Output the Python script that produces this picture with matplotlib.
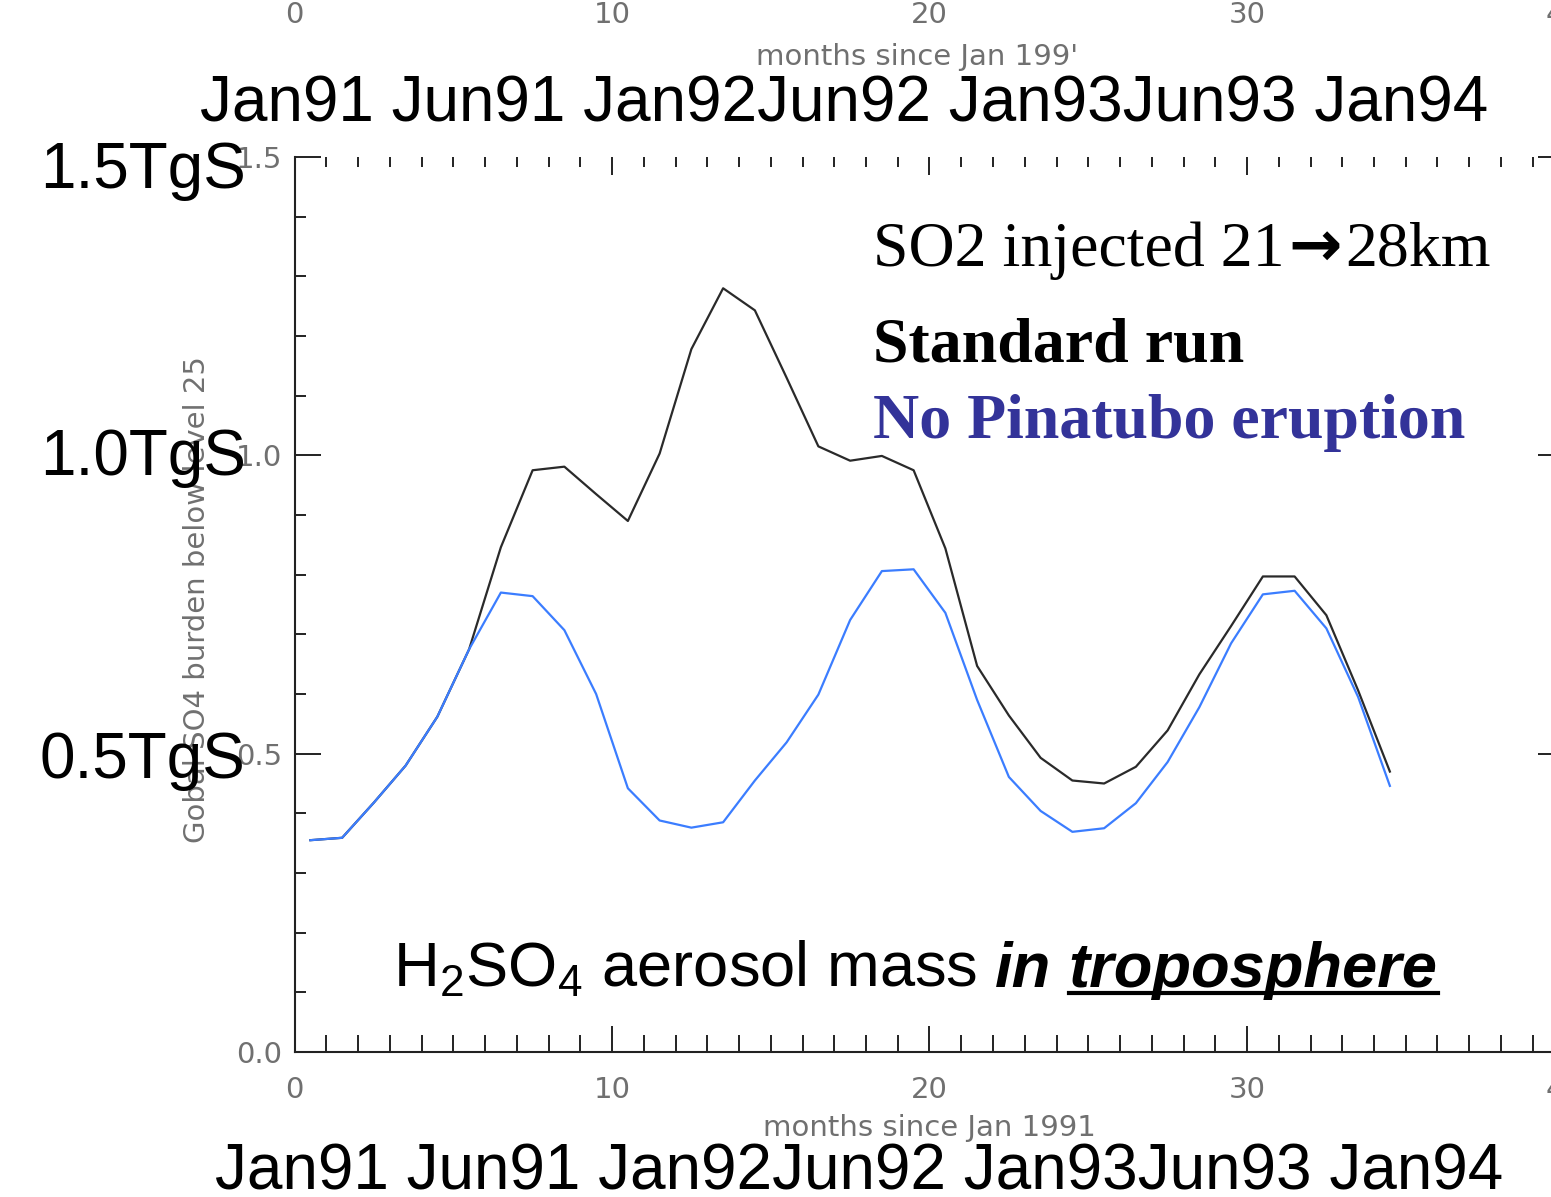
import matplotlib
matplotlib.use("Agg")
import matplotlib.pyplot as plt
from matplotlib.ticker import MultipleLocator
from matplotlib.lines import Line2D

# months since Jan 1991 (monthly means, plotted mid-month)
months = [0.5, 1.5, 2.5, 3.5, 4.5, 5.5, 6.5, 7.5, 8.5, 9.5,
          10.5, 11.5, 12.5, 13.5, 14.5, 15.5, 16.5, 17.5, 18.5, 19.5,
          20.5, 21.5, 22.5, 23.5, 24.5, 25.5, 26.5, 27.5, 28.5, 29.5,
          30.5, 31.5, 32.5, 33.5, 34.5]

# tropospheric H2SO4 burden, TgS
standard = [0.355, 0.359, 0.418, 0.480, 0.562, 0.675, 0.846, 0.975, 0.981, 0.935,
            0.890, 1.003, 1.178, 1.280, 1.243, 1.130, 1.015, 0.991, 0.999, 0.975,
            0.844, 0.647, 0.564, 0.493, 0.455, 0.450, 0.478, 0.539, 0.633, 0.714,
            0.797, 0.797, 0.732, 0.606, 0.470]
no_pinatubo = [0.355, 0.359, 0.418, 0.480, 0.562, 0.675, 0.770, 0.764, 0.707, 0.600,
               0.442, 0.388, 0.376, 0.385, 0.455, 0.519, 0.599, 0.724, 0.806, 0.809,
               0.736, 0.590, 0.461, 0.404, 0.369, 0.375, 0.417, 0.486, 0.578, 0.685,
               0.767, 0.773, 0.710, 0.595, 0.446]

x_major = [0, 10, 20, 30, 40]
y_major = [0.0, 0.5, 1.0, 1.5]
y_major_labels = ["0.0", "0.5", "1.0", "1.5"]
date_labels = "Jan91 Jun91 Jan92Jun92 Jan93Jun93 Jan94"
tgs_labels = ["1.5TgS", "1.0TgS", "0.5TgS"]

W, H = 1551, 1197
def fx(px):
    return px / W
def fy(py):
    return 1 - py / H

gray = "#707070"
sans = ["Liberation Sans", "DejaVu Sans"]
serif = ["Liberation Serif", "DejaVu Serif"]

fig = plt.figure(figsize=(W / 100, H / 100), dpi=100)
ax = fig.add_axes([fx(294.5), fy(1052), 1270 / W, 895 / H])

ax.plot(months, standard, color="#2a2a2a", lw=1.6)
ax.plot(months, no_pinatubo, color="#3b7dff", lw=1.6)

ax.set_xlim(0, 40)
ax.set_ylim(0, 1.5)
ax.set_xticks(x_major)
ax.set_xticks(range(41), minor=True)
ax.set_yticks(y_major, y_major_labels)
ax.yaxis.set_minor_locator(MultipleLocator(0.1))
for s in ["top", "right"]:
    ax.spines[s].set_visible(False)
for s in ["left", "bottom"]:
    ax.spines[s].set_linewidth(1.5)
    ax.spines[s].set_color("#222222")

ax.tick_params(axis="x", which="both", direction="in", top=False, width=1.4,
               color="#222222", labelcolor=gray, labelsize=21, pad=17)
ax.tick_params(axis="x", which="major", length=19)
ax.tick_params(axis="x", which="minor", length=12)
ax.tick_params(axis="y", which="both", direction="in", left=True, right=True, width=1.4,
               color="#222222", labelcolor=gray, labelsize=21, pad=9)
ax.tick_params(axis="y", which="major", length=19)
ax.tick_params(axis="y", which="minor", length=8)

ax.set_xlabel("months since Jan 1991", color=gray, fontsize=21)
ax.xaxis.set_label_coords(0.5, -0.085)
ax.xaxis.label.set_va("center")
ax.set_ylabel("Gobal SO4 burden below level 25", color=gray, fontsize=21)
ax.yaxis.set_label_coords(-0.077, 0.505)
ax.yaxis.label.set_va("center")

# top axis (IDL style, no spine)
ax2 = ax.twiny()
ax2.set_xlim(0, 40)
ax2.set_xticks(x_major)
ax2.set_xticks(range(41), minor=True)
for s in ax2.spines.values():
    s.set_visible(False)
ax2.tick_params(axis="x", which="both", direction="in", top=True, bottom=False,
                width=1.4, color="#222222", labelcolor=gray, labelsize=21, pad=92)
ax2.tick_params(axis="x", which="major", length=13)
ax2.tick_params(axis="x", which="minor", length=7)
ax2.set_xlabel("months since Jan 199'", color=gray, fontsize=21)
ax2.xaxis.set_label_coords(0.49, 1.112)
ax2.xaxis.label.set_va("center")

# overlaid slide annotations
fig.text(fx(200), fy(122), date_labels, fontsize=46, family=sans, va="baseline")
fig.text(fx(215), fy(1190), date_labels, fontsize=46, family=sans, va="baseline")
for lab, base in zip(tgs_labels, [188, 475, 778]):
    fig.text(fx(40), fy(base), lab, fontsize=46, family=sans, va="baseline")

fig.text(fx(873), fy(362), "Standard run", fontsize=46, family=serif, weight="bold",
         va="baseline", color="black")
fig.text(fx(873), fy(438), "No Pinatubo eruption", fontsize=46, family=serif, weight="bold",
         va="baseline", color="#333399")

fig.canvas.draw()
r = fig.canvas.get_renderer()

# "SO2 injected 21 -> 28km" with a heavy arrow
s1 = fig.text(fx(873), fy(266), "SO2 injected 21", fontsize=46, family=serif, va="baseline")
bs = s1.get_window_extent(r)
arr = fig.text((bs.x1 + 4) / W, fy(266), "\u2192", fontsize=46, family=["DejaVu Sans"],
               weight="bold", va="baseline")
ba = arr.get_window_extent(r)
fig.text((ba.x1 + 3) / W, fy(266), "28km", fontsize=46, family=serif, va="baseline")

# "H2SO4 aerosol mass in troposphere"
fs = 45.5
base = fy(987)
t1 = fig.text(fx(393), base, r"H$_\mathregular{2}$SO$_\mathregular{4}$ aerosol mass",
              fontsize=fs, family=sans, va="baseline")
space = 0.278 * fs * 100 / 72
b1 = t1.get_window_extent(r)
t2 = fig.text((b1.x1 + space) / W, base, "in", fontsize=fs, family=sans,
              weight="bold", style="italic", va="baseline")
b2 = t2.get_window_extent(r)
t3 = fig.text((b2.x1 + space) / W, base, "troposphere", fontsize=fs, family=sans,
              weight="bold", style="italic", va="baseline")
b3 = t3.get_window_extent(r)
uy = base - 6 / H
fig.add_artist(Line2D([b3.x0 / W, b3.x1 / W], [uy, uy], color="black", lw=3,
                      transform=fig.transFigure))

fig.savefig("out.png", dpi=100)
